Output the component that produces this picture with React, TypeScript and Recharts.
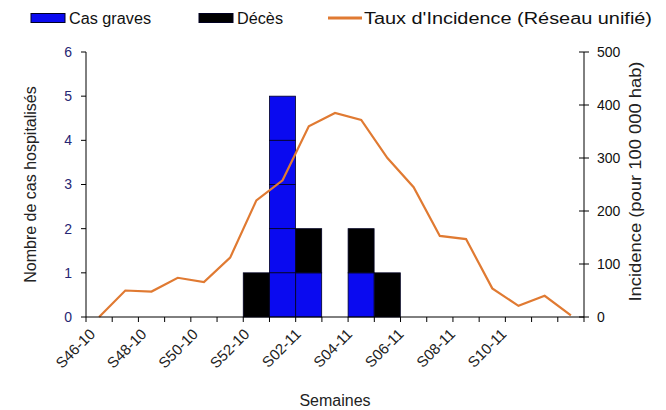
import React from 'react'
import {
  ComposedChart, Bar, Line, XAxis, YAxis, Legend,
} from 'recharts'

const weeks = [
  'S46-10', 'S47-10', 'S48-10', 'S49-10', 'S50-10', 'S51-10', 'S52-10',
  'S01-11', 'S02-11', 'S03-11', 'S04-11', 'S05-11', 'S06-11', 'S07-11',
  'S08-11', 'S09-11', 'S10-11', 'S11-11', 'S12-11',
]
// only these weeks carry a label on the axis
const tickLabels = ['S46-10', 'S48-10', 'S50-10', 'S52-10', 'S02-11', 'S04-11', 'S06-11', 'S08-11', 'S10-11']
const casGraves = [0, 0, 0, 0, 0, 0, 0, 5, 1, 0, 1, 0, 0, 0, 0, 0, 0, 0, 0]
const deces = [0, 0, 0, 0, 0, 0, 1, 0, 1, 0, 1, 1, 0, 0, 0, 0, 0, 0, 0]
const incidence = [0, 50, 48, 74, 66, 112, 220, 258, 360, 385, 372, 300, 245, 153, 147, 54, 21, 40, 3]

const leftTicks = [0, 1, 2, 3, 4, 5, 6]
const rightTicks = [0, 100, 200, 300, 400, 500]

const W = 666
const H = 410
const LEFT_W = 86
const RIGHT_W = 82
const PLOT_W = W - LEFT_W - RIGHT_W

const BLUE = '#0a0af0'
const ORANGE = '#e07a32'
const FONT = '"Liberation Sans", Arial, sans-serif'

const data = weeks.map((w, i) => ({
  week: w,
  graves: casGraves[i],
  deces: deces[i],
  incidence: incidence[i],
}))

// each case is drawn as its own cell, like the original
const unitBar = (key: 'graves' | 'deces') => (props: any) => {
  const { x, y, width, height, fill, payload } = props
  const n = payload?.[key] ?? 0
  if (!n || !height) return <g />
  const h = height / n
  return (
    <g>
      {Array.from({ length: n }, (_, i) => (
        <rect key={i} x={x} y={y + i * h} width={width} height={h}
          fill={fill} stroke="#000022" strokeWidth={0.8} />
      ))}
    </g>
  )
}

function WeekTick(props: any) {
  const { x, y, payload, index } = props
  const bw = PLOT_W / weeks.length
  const last = index === weeks.length - 1
  const k = tickLabels.indexOf(payload.value)
  const tx = x - 3 - k
  const ty = y + 18
  return (
    <g>
      <line x1={x - bw / 2} x2={x - bw / 2} y1={y} y2={y + 5} stroke="#000" />
      {last && <line x1={x + bw / 2} x2={x + bw / 2} y1={y} y2={y + 5} stroke="#000" />}
      {k >= 0 && (
        <text x={tx} y={ty} textAnchor="end" fontSize={15} fontFamily={FONT}
          fill="#222" transform={`rotate(-45 ${tx} ${ty})`}>
          {payload.value}
        </text>
      )}
    </g>
  )
}

function RightTick(props: any) {
  const { x, y, payload } = props
  return (
    <g>
      <line x1={x - 5} x2={x + 5} y1={y} y2={y} stroke="#000" />
      <text x={x + 13} y={y} dy="0.36em" fontSize={14} fontFamily={FONT} fill="#111">
        {payload.value}
      </text>
    </g>
  )
}

const legendItems = [
  { name: 'Cas graves', kind: 'rect', color: BLUE, x: 31, tx: 69, len: 82 },
  { name: 'Décès', kind: 'rect', color: '#000', x: 199, tx: 237, len: 46 },
  { name: "Taux d'Incidence (Réseau unifié)", kind: 'line', color: ORANGE, x: 328, tx: 364, len: 288 },
]

function TopLegend() {
  return (
    <svg width={W} height={32}>
      {legendItems.map(it => (
        <g key={it.name}>
          {it.kind === 'rect'
            ? <rect x={it.x} y={13.5} width={34} height={9} fill={it.color} stroke="#000022" />
            : <line x1={it.x} x2={it.x + 34} y1={18} y2={18} stroke={it.color} strokeWidth={3} />}
          <text x={it.tx} y={24} fontSize={16} fontFamily={FONT} fill="#111"
            textLength={it.len} lengthAdjust="spacingAndGlyphs">{it.name}</text>
        </g>
      ))}
    </svg>
  )
}

export default function App() {
  return (
    <div style={{ position: 'absolute', left: 0, top: 0, background: '#fff' }}>
      <ComposedChart width={W} height={H} data={data} barCategoryGap={0}
        margin={{ top: 52, right: 0, bottom: 0, left: 0 }}>
        <XAxis dataKey="week" interval={0} height={H - 317} tickSize={0} tickMargin={0}
          tick={<WeekTick />} axisLine={{ stroke: '#000' }} tickLine={false}
          label={{ value: 'Semaines', position: 'insideBottom', offset: 4, fontSize: 16, fontFamily: FONT, fill: '#222' }} />
        <YAxis yAxisId="left" domain={[0, 6]} ticks={leftTicks} width={LEFT_W}
          axisLine={{ stroke: '#000' }} tickLine={{ stroke: '#000' }} tickSize={5} tickMargin={9}
          tick={{ fontSize: 14, fontFamily: FONT, fill: '#262673' }}
          label={{
            content: (p: any) => {
              const vb = p.viewBox
              const cx = vb.x + 30
              const cy = vb.y + vb.height / 2
              return (
                <text x={cx} y={cy} textAnchor="middle" dy="0.35em" fontSize={16} fontFamily={FONT}
                  fill="#222" transform={`rotate(-90 ${cx} ${cy})`}>
                  Nombre de cas hospitalisés
                </text>
              )
            },
          }} />
        <YAxis yAxisId="right" orientation="right" domain={[0, 500]} ticks={rightTicks} width={RIGHT_W}
          axisLine={{ stroke: '#000' }} tickLine={false} tickSize={0} tickMargin={0}
          tick={<RightTick />}
          label={{
            content: (p: any) => {
              const vb = p.viewBox
              const cx = vb.x + 51
              const cy = vb.y + vb.height / 2 - 3
              return (
                <text x={cx} y={cy} textAnchor="middle" dy="0.35em" fontSize={16} fontFamily={FONT}
                  fill="#222" transform={`rotate(-90 ${cx} ${cy})`}
                  textLength={240} lengthAdjust="spacingAndGlyphs">
                  Incidence (pour 100 000 hab)
                </text>
              )
            },
          }} />
        <Legend verticalAlign="middle" align="center" layout="horizontal"
          wrapperStyle={{ top: 0, left: 0, width: W, height: 32 }}
          content={() => <TopLegend />} />
        <Bar yAxisId="left" dataKey="graves" stackId="a" fill={BLUE} shape={unitBar('graves')} isAnimationActive={false} />
        <Bar yAxisId="left" dataKey="deces" stackId="a" fill="#000" shape={unitBar('deces')} isAnimationActive={false} />
        <Line yAxisId="right" dataKey="incidence" stroke={ORANGE} strokeWidth={2.2} dot={false}
          type="linear" isAnimationActive={false} />
      </ComposedChart>
    </div>
  )
}
